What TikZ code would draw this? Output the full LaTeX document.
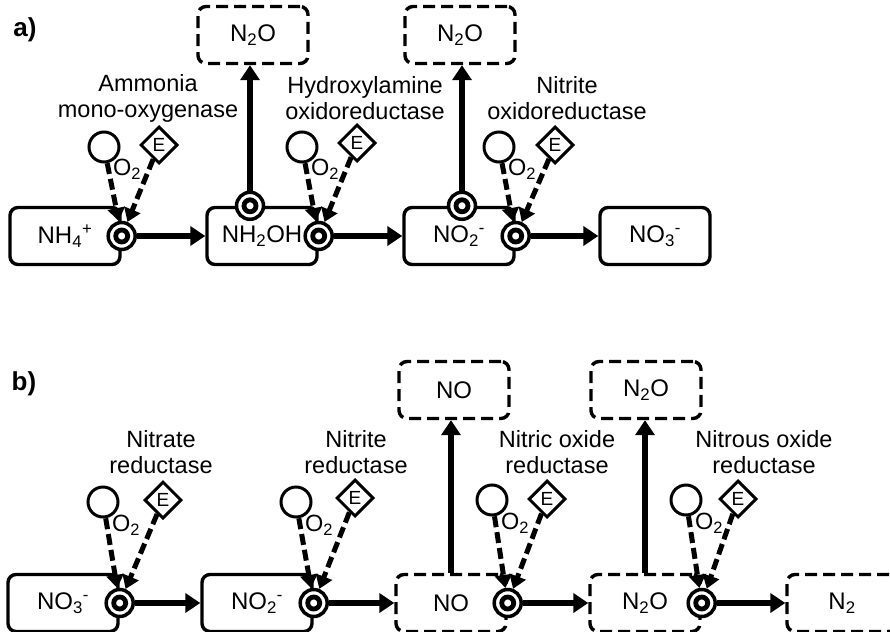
\documentclass[tikz,border=0pt]{standalone}
\usepackage{fontspec}
\setmainfont{Liberation Sans}
\usetikzlibrary{arrows.meta,shapes.geometric}

\begin{document}
\begin{tikzpicture}[x=1pt,y=-1pt,
    species/.style={draw,line width=3.4pt,rounded corners=8pt,minimum width=110pt,minimum height=57pt,inner sep=0pt,font=\fontsize{24}{26}\selectfont},
    sink/.style={species,dash pattern=on 12pt off 6pt},
    proc/.style={circle,draw,fill=white,line width=3.5pt,minimum size=27pt,inner sep=0pt,
        path picture={\draw[line width=4.8pt] (path picture bounding box.center) circle (6pt);}},
    oxy/.style={circle,draw,line width=3pt,minimum size=30pt,inner sep=0pt},
    enz/.style={diamond,draw,line width=3pt,minimum size=37pt,inner sep=0pt,font=\fontsize{19}{19}\selectfont},
    lab/.style={align=center,font=\fontsize{23.5}{26}\selectfont},
    tag/.style={font=\bfseries\fontsize{26}{26}\selectfont},
    conv/.style={line width=6pt,-{Triangle[length=15pt,width=19pt]}},
    modu/.style={line width=5pt,dash pattern=on 11pt off 5pt,-{Triangle[length=13pt,width=17pt]}}]
    \useasboundingbox (0,0) rectangle (890,631);
    \clip (0,0) rectangle (890,631);

    % a) nitrification
    \node[tag] (taga) at (25,30) {a)};
    \node[species] (nh4) at (65,236) {NH\textsubscript{4}\textsuperscript{+}};
    \node[species] (nh2oh) at (262,236) {NH\textsubscript{2}OH};
    \node[species] (no2a) at (459,236) {NO\textsubscript{2}\textsuperscript{-}};
    \node[species] (no3a) at (655,236) {NO\textsubscript{3}\textsuperscript{-}};
    \node[sink] (n2oa) at (253,35) {N\textsubscript{2}O};
    \node[sink] (n2ob) at (460,35) {N\textsubscript{2}O};
    \node[lab] (amo) at (148,98.5) {Ammonia\\mono-oxygenase};
    \node[lab] (hao) at (365,98.5) {Hydroxylamine\\oxidoreductase};
    \node[lab] (nxr) at (567,98.5) {Nitrite\\oxidoreductase};

    \node[proc] (pa1) at (nh4.east) {};
    \node[proc] (pa2) at (nh2oh.east) {};
    \node[proc] (pa3) at (no2a.east) {};
    \node[proc] (ta1) at ([xshift=-12pt]nh2oh.north) {};
    \node[proc] (ta2) at ([xshift=3pt]no2a.north) {};

    \draw[conv] (pa1) -- (nh2oh);
    \draw[conv] (pa2) -- (no2a);
    \draw[conv] (pa3) -- (no3a);
    \draw[conv] (ta1) -- (ta1 |- n2oa.south);
    \draw[conv] (ta2) -- (ta2 |- n2ob.south);

    \foreach \cx/\ex/\ey/\p [count=\i] in {104/159/145/pa1, 302/357/143/pa2, 499/555/145/pa3} {
        \node[oxy] (oa\i) at (\cx,147) {};
        \node[lab] (ola\i) at (\cx+23,169) {O\textsubscript{2}};
        \node[enz] (ea\i) at (\ex,\ey) {E};
        \draw[modu] (oa\i) -- (\p);
        \draw[modu] (ea\i) -- (\p);
    }

    % b) denitrification
    \node[tag] (tagb) at (24,384) {b)};
    \node[species] (no3b) at (63,603) {NO\textsubscript{3}\textsuperscript{-}};
    \node[species] (no2b) at (257,603) {NO\textsubscript{2}\textsuperscript{-}};
    \node[sink] (nob) at (451,603) {NO};
    \node[sink] (n2oc) at (645,603) {N\textsubscript{2}O};
    \node[sink] (n2b) at (842,603) {N\textsubscript{2}};
    \node[sink] (tno) at (454,390) {NO};
    \node[sink] (tn2o) at (646,390) {N\textsubscript{2}O};
    \node[lab] (nar) at (161,452.5) {Nitrate\\reductase};
    \node[lab] (nir) at (356,452.5) {Nitrite\\reductase};
    \node[lab] (nor) at (557,452.5) {Nitric oxide\\reductase};
    \node[lab] (nos) at (764,452.5) {Nitrous oxide\\reductase};

    \node[proc] (pb1) at (no3b.east) {};
    \node[proc] (pb2) at (no2b.east) {};
    \node[proc] (pb3) at (nob.east) {};
    \node[proc] (pb4) at (n2oc.east) {};

    \draw[conv] (pb1) -- (no2b);
    \draw[conv] (pb2) -- (nob);
    \draw[conv] (pb3) -- (n2oc);
    \draw[conv] (pb4) -- (n2b);
    \draw[conv] (nob.north) -- (nob.north |- tno.south);
    \draw[conv] (n2oc.north) -- (n2oc.north |- tn2o.south);

    \foreach \cx/\cy/\ex/\ey/\p [count=\i] in {103/502/163/500/pb1, 296/502/355/498/pb2, 492/500/547/499/pb3, 686/500/738/499/pb4} {
        \node[oxy] (ob\i) at (\cx,\cy) {};
        \node[lab] (olb\i) at (\cx+23,\cy+23) {O\textsubscript{2}};
        \node[enz] (eb\i) at (\ex,\ey) {E};
        \draw[modu] (ob\i) -- (\p);
        \draw[modu] (eb\i) -- (\p);
    }
\end{tikzpicture}
\end{document}
